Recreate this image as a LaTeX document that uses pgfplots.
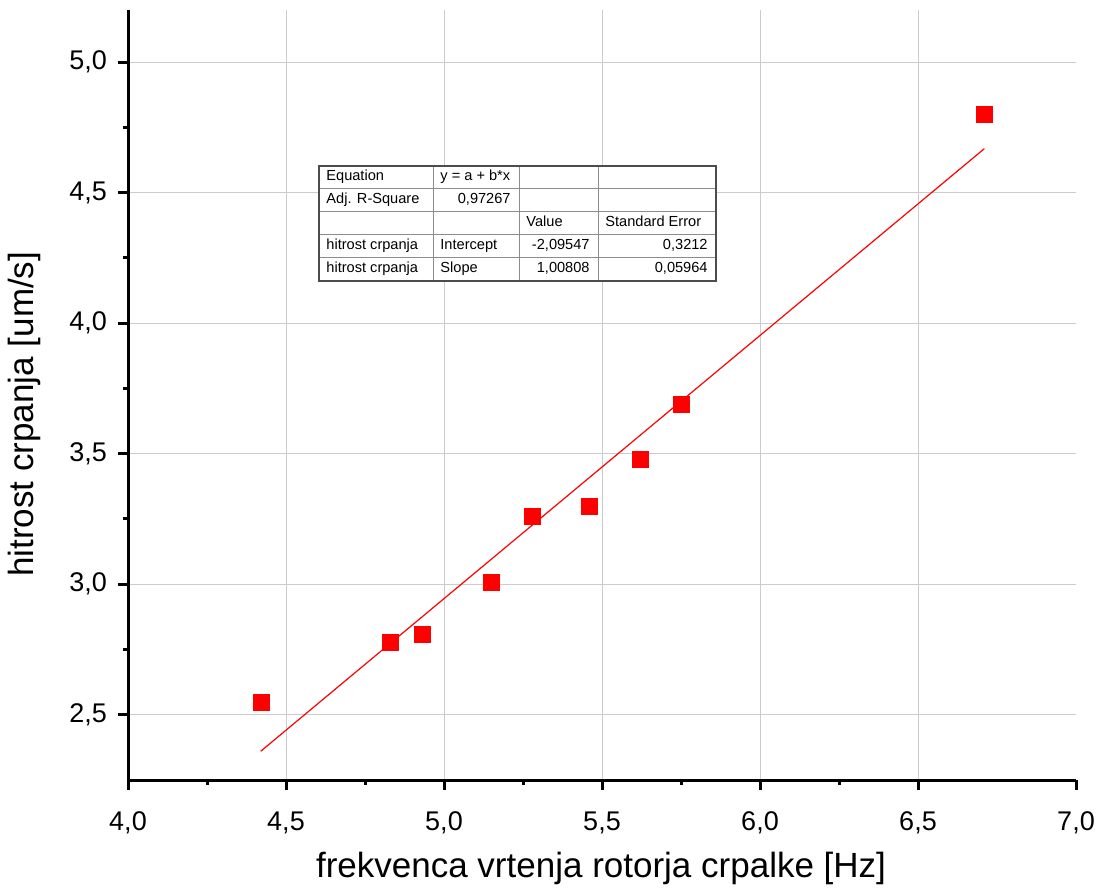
\documentclass[border=0pt]{standalone}
\usepackage{fontspec}
\setmainfont{Liberation Sans}
\usepackage{pgfplots}
\pgfplotsset{compat=1.18}

\newcommand{\cellL}[3]{\node[anchor=base west, inner sep=0pt, font=\fontsize{7.3}{8}\selectfont] at (#1+3.5,#2+4) {#3};}
\newcommand{\cellR}[3]{\node[anchor=base east, inner sep=0pt, font=\fontsize{7.3}{8}\selectfont] at (#1-4,#2+4) {#3};}

\begin{document}
\begin{tikzpicture}[x=1pt,y=1pt]
\useasboundingbox (0,0) rectangle (553,445);
\begin{axis}[
  at={(64pt,55pt)}, anchor=south west,
  scale only axis,
  width=474pt, height=385pt,
  xmin=4, xmax=7, ymin=2.25, ymax=5.2,
  axis x line=bottom, axis y line=left,
  axis line style={line width=1.5pt, -},
  xtick={4,4.5,5,5.5,6,6.5},
  extra x ticks={7},
  extra x tick style={grid=none},
  ytick={2.5,3,3.5,4,4.5,5},
  minor x tick num=1, minor y tick num=1,
  tick align=outside,
  major tick length=5pt, minor tick length=2.5pt,
  every tick/.style={black, line width=1.5pt},
  xmajorgrids, ymajorgrids,
  major grid style={black!20, line width=0.5pt},
  /pgf/number format/.cd, use comma, fixed, fixed zerofill, precision=1, assume math mode=true,
  /pgfplots/.cd,
  tick label style={font=\fontsize{13.5}{15}\selectfont},
  xticklabel style={yshift=-7.5pt},
  yticklabel style={xshift=-2pt},
  label style={font=\fontsize{17.5}{20}\selectfont},
  xlabel={frekvenca vrtenja rotorja crpalke [Hz]},
  ylabel={hitrost crpanja [um/s]},
  xlabel style={at={(axis description cs:0.499,-0.127)}, anchor=base},
  ylabel style={at={(axis description cs:-0.1,0.475)}, anchor=base, rotate=0},
]
\addplot[red, line width=0.6pt, no marks] coordinates {(4.42,2.3602) (6.71,4.6688)};
\addplot[only marks, mark=square*, mark size=4pt, red, mark options={fill=red, draw=red, line width=0.1pt}] coordinates {
  (4.42,2.55)
  (4.83,2.78)
  (4.93,2.81)
  (5.15,3.01)
  (5.28,3.26)
  (5.46,3.30)
  (5.62,3.48)
  (5.75,3.69)
  (6.71,4.80)
};
\end{axis}
% fit result table
\fill[white] (159.5,304.5) rectangle (358,362);
\draw[black!45, line width=0.5pt]
  (159.5,350.5) -- (358,350.5)
  (159.5,339) -- (358,339)
  (159.5,327.5) -- (358,327.5)
  (159.5,316) -- (358,316)
  (216.5,304.5) -- (216.5,362)
  (259.5,304.5) -- (259.5,362)
  (299,304.5) -- (299,362);
\draw[black!70, line width=0.7pt] (159.5,304.5) rectangle (358,362);
\cellL{159.5}{350.5}{Equation}
\cellL{216.5}{350.5}{y = a + b*x}
\cellL{159.5}{339}{Adj. R-Square}
\cellR{259.5}{339}{0,97267}
\cellL{259.5}{327.5}{Value}
\cellL{299}{327.5}{Standard Error}
\cellL{159.5}{316}{hitrost crpanja}
\cellL{216.5}{316}{Intercept}
\cellR{299}{316}{-2,09547}
\cellR{358}{316}{0,3212}
\cellL{159.5}{304.5}{hitrost crpanja}
\cellL{216.5}{304.5}{Slope}
\cellR{299}{304.5}{1,00808}
\cellR{358}{304.5}{0,05964}
\end{tikzpicture}
\end{document}
